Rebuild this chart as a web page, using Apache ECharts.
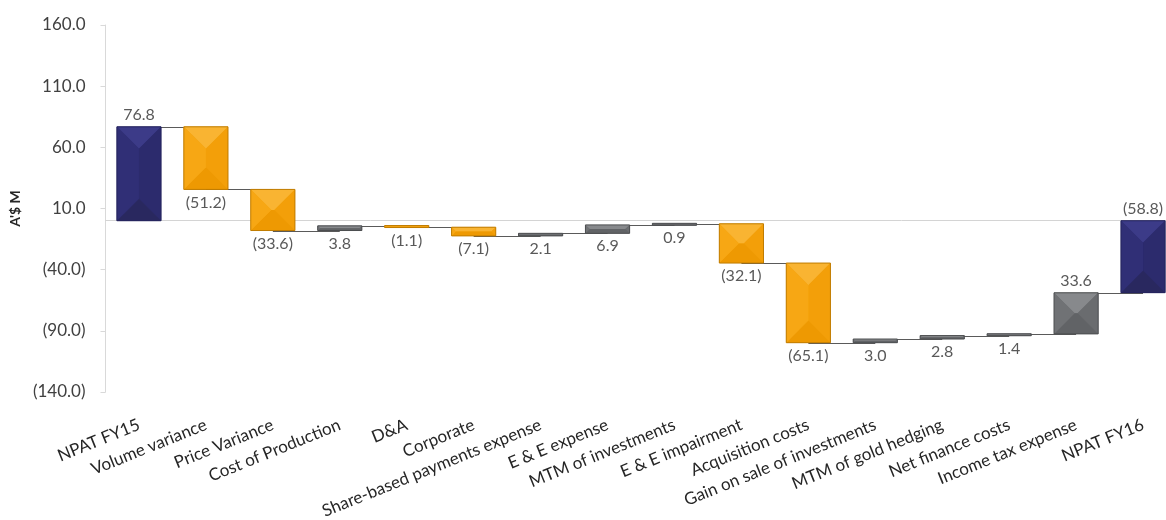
<!DOCTYPE html>
<html>
<head>
<meta charset="utf-8">
<script src="https://cdn.jsdelivr.net/npm/echarts@6/dist/echarts.min.js"></script>
<style>
html,body{margin:0;padding:0;background:#fff;}
#chart{width:1166px;height:520px;}
</style>
</head>
<body>
<div id="chart"></div>
<script>
const categories = ['NPAT FY15','Volume variance','Price Variance','Cost of Production','D&A','Corporate','Share-based payments expense','E & E expense','MTM of investments','E & E impairment','Acquisition costs','Gain on sale of investments','MTM of gold hedging','Net finance costs','Income tax expense','NPAT FY16'];
const changes = [76.8, -51.2, -33.6, 3.8, -1.1, -7.1, 2.1, 6.9, 0.9, -32.1, -65.1, 3.0, 2.8, 1.4, 33.6, -58.8];
const isTotal = [true,false,false,false,false,false,false,false,false,false,false,false,false,false,false,true];
const yTicks = [-140, -90, -40, 10, 60, 110, 160];

const labelTop = {0:true, 14:true, 15:true};

// running waterfall
const barData = [];
const connData = [];
let run = 0;
for (let i = 0; i < categories.length; i++) {
  let s, e;
  if (isTotal[i]) { s = 0; e = changes[i]; }
  else { s = run; e = run + changes[i]; }
  run = e;
  const kind = isTotal[i] ? 0 : (changes[i] < 0 ? 1 : 2);
  barData.push([i, s, e, changes[i], kind]);
  if (i < categories.length - 1) connData.push([i, e]);
}

const palettes = [
  {base:'#2e2d72', top:'#3c3b88', left:'#302f76', right:'#2c2b6d', bottom:'#29285f', stroke:'#23225c'},
  {base:'#f5a20c', top:'#f9b432', left:'#f7a714', right:'#f39f09', bottom:'#ee9902', stroke:'#c07c00'},
  {base:'#6c6e71', top:'#87898c', left:'#707275', right:'#6a6c6f', bottom:'#616366', stroke:'#4c4e50'}
];

function fmt(v){ return v < 0 ? '(' + Math.abs(v).toFixed(1) + ')' : v.toFixed(1); }

const chart = echarts.init(document.getElementById('chart'));
chart.setOption({
  animation: false,
  backgroundColor: '#ffffff',
  grid: {left: 105.5, right: -10.5, top: 25, bottom: 128, outerBoundsMode: 'none'},
  xAxis: [{
    type: 'category',
    data: categories,
    position: 'bottom',
    axisLine: {show: false, onZero: false},
    axisTick: {show: false},
    axisLabel: {interval: 0, rotate: 22, margin: 32, color: '#262626', fontFamily: 'Lato', fontSize: 17}
  }, {
    type: 'category',
    data: categories,
    position: 'bottom',
    axisLine: {show: true, onZero: true, lineStyle: {color: '#d4d4d4', width: 1}},
    axisTick: {show: false},
    axisLabel: {show: false}
  }],
  yAxis: {
    type: 'value',
    min: yTicks[0],
    max: yTicks[yTicks.length - 1],
    interval: 50,
    name: "A'$ M",
    nameLocation: 'middle',
    nameGap: 73,
    nameTextStyle: {color: '#262626', fontFamily: 'Lato', fontSize: 14, fontWeight: 'bold'},
    axisLine: {show: true, lineStyle: {color: '#d9d9d9'}},
    axisTick: {show: true, length: 5, lineStyle: {color: '#d9d9d9'}},
    splitLine: {show: false},
    axisLabel: {color: '#404040', fontFamily: 'Lato', fontSize: 17, margin: 20, formatter: v => fmt(v)}
  },
  series: [{
    type: 'custom',
    z: 1,
    data: connData,
    renderItem: function(params, api){
      const i = api.value(0), lv = api.value(1);
      const a = api.coord([i, lv]);
      const b = api.coord([i + 1, lv]);
      const y = Math.round(a[1]) + 0.5;
      return {type:'line', shape:{x1:a[0], y1:y, x2:b[0], y2:y}, style:{stroke:'#5a5a5a', lineWidth:1}};
    }
  }, {
    type: 'custom',
    z: 3,
    data: barData,
    renderItem: function(params, api){
      const i = api.value(0);
      const p0 = api.coord([i, api.value(1)]);
      const p1 = api.coord([i, api.value(2)]);
      const v = api.value(3);
      const pal = palettes[api.value(4)];
      const w = api.size([1, 0])[0] * 0.66;
      const l = p0[0] - w/2, r = p0[0] + w/2;
      let t = Math.min(p0[1], p1[1]), b = Math.max(p0[1], p1[1]);
      if (b - t < 2) { const c = (t + b)/2; t = c - 1; b = c + 1; }
      const h = b - t;
      const d = Math.min(w, h) / 2;
      const P1 = [l + d, t + d], P2 = [r - d, t + d], P3 = [r - d, b - d], P4 = [l + d, b - d];
      const children = [
        {type:'rect', shape:{x:l, y:t, width:w, height:h}, style:{fill:pal.base}},
        {type:'polygon', shape:{points:[[l,t],[r,t],P2,P1]}, style:{fill:pal.top}},
        {type:'polygon', shape:{points:[[r,t],[r,b],P3,P2]}, style:{fill:pal.right}},
        {type:'polygon', shape:{points:[[r,b],[l,b],P4,P3]}, style:{fill:pal.bottom}},
        {type:'polygon', shape:{points:[[l,b],[l,t],P1,P4]}, style:{fill:pal.left}},
        {type:'rect', shape:{x:l, y:t, width:w, height:h}, style:{fill:null, stroke:pal.stroke, lineWidth:1}}
      ];
      const top = labelTop[i];
      children.push({
        type:'text',
        style:{
          text: fmt(v),
          x: p0[0],
          y: top ? t - 4 : b + 5,
          align:'center',
          verticalAlign: top ? 'bottom' : 'top',
          fill:'#595959',
          font:'16px Lato'
        }
      });
      return {type:'group', children: children};
    }
  }]
});
</script>
</body>
</html>
